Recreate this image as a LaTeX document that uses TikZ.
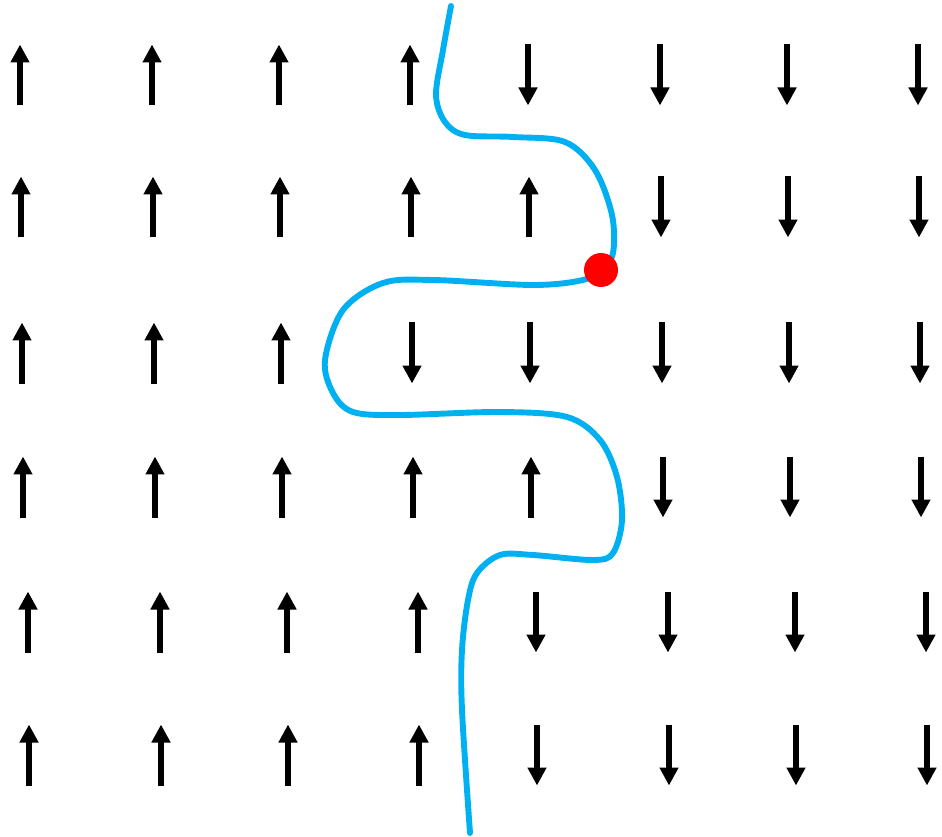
\documentclass[tikz,border=0pt]{standalone}
\usepackage{tikz}
\usetikzlibrary{arrows.meta}
\definecolor{wallblue}{HTML}{00B0F0}
\definecolor{pinred}{HTML}{FF0000}
\tikzset{
  spinarrow/.style={line width=0.12cm,draw=black,
                    -{Triangle[length=0.36cm,width=0.36cm]}},
  domainwall/.style={draw=wallblue,line width=0.118cm,line cap=round},
  pinning/.style={fill=pinred}
}

\begin{document}
\begin{tikzpicture}[x=0.02cm,y=-0.02cm]
    \useasboundingbox (0,0) rectangle (942,837);
    % --- spins: row / centre y / first x / number of up spins ---
    \foreach \r/\y/\xo/\nup in {1/75/20/4, 2/207/21/5, 3/353/22/3,
                                4/487/23/5, 5/622/28/4, 6/755/29/4} {
      \foreach \c/\dx in {0/0,1/132,2/259,3/390,4/508,5/640,6/767,7/898} {
        \ifnum\c<\nup\relax
          \draw[spinarrow] (\xo+\dx,\y+30.5) -- ++(0,-61);
        \else
          \draw[spinarrow] (\xo+\dx,\y-30.5) -- ++(0,61);
        \fi
      }
    }
    % --- domain wall ---
    \draw[domainwall] plot[smooth,tension=0.55] coordinates {
      (451,6) (443,50) (436,95) (445,122) (465,135) (513,137) (565,142)
      (595,170) (612,215) (613,253) (601,270) (583,280) (533,285)
      (433,280) (383,283) (343,310) (325,360) (333,393) (353,412)
      (400,415) (500,412) (567,417) (600,440) (617,477) (622,520)
      (613,553) (593,560) (533,555) (500,555) (477,573) (468,600)
      (462,650) (462,710) (470,833)};
    % --- pinning site ---
    \fill[pinning] (601,270) circle[radius=0.34cm];
\end{tikzpicture}
\end{document}
